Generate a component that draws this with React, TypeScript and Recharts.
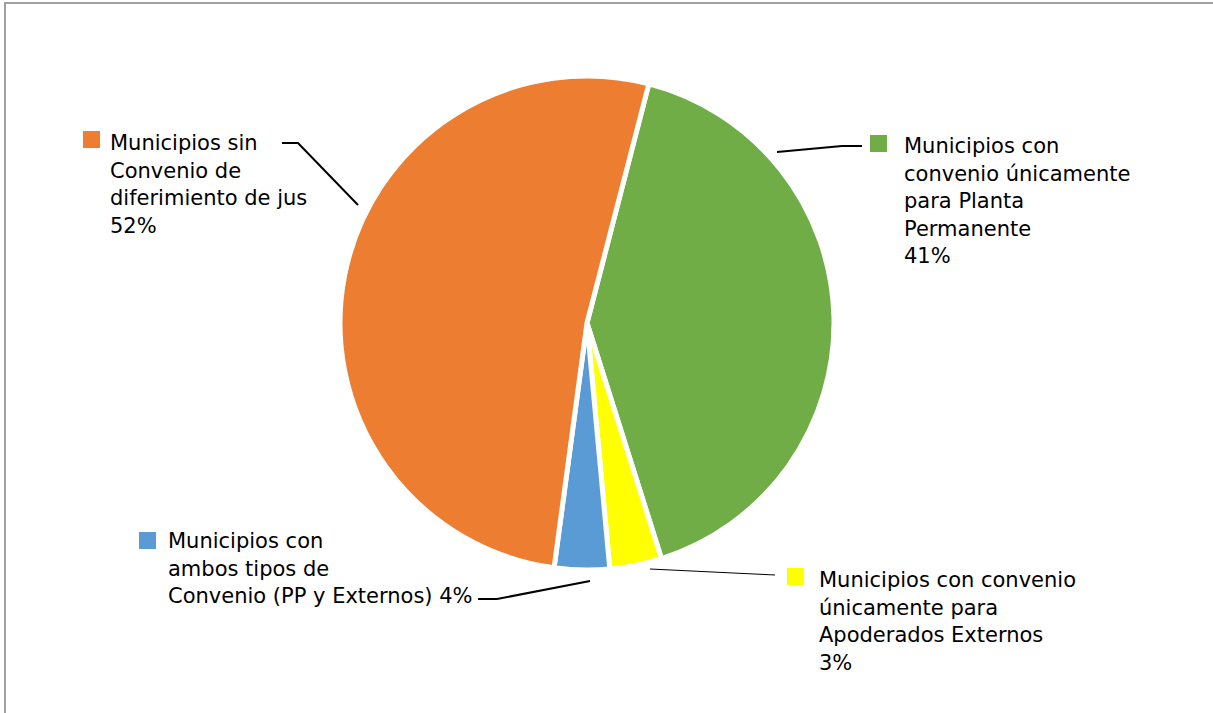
import React from "react";
import { PieChart, Pie, Cell } from "recharts";

const categories = [
  "Municipios con convenio únicamente para Planta Permanente",
  "Municipios con convenio únicamente para Apoderados Externos",
  "Municipios con ambos tipos de Convenio (PP y Externos)",
  "Municipios sin Convenio de diferimiento de jus",
];
const values = [41.1, 3.4, 3.6, 51.9];
const percentLabels = ["41%", "3%", "4%", "52%"];
const labelLines = [
  ["Municipios con", "convenio únicamente", "para Planta", "Permanente", "41%"],
  ["Municipios con convenio", "únicamente para", "Apoderados Externos", "3%"],
  ["Municipios con", "ambos tipos de", "Convenio (PP y Externos) 4%"],
  ["Municipios sin", "Convenio de", "diferimiento de jus", "52%"],
];
const colors = ["#70AD47", "#FFFF00", "#5B9BD5", "#ED7D31"];

const data = categories.map((name, i) => ({ name, value: values[i], pct: percentLabels[i] }));

// label layout, offsets relative to the pie centre
const layout = [
  { tx: 317, ty: -170, sq: [283, -188], line: [[190, -171], [255, -177], [275, -177]], lw: 2 },
  { tx: 232, ty: 264, sq: [200, 245], line: [[63, 246], [188, 252]], lw: 1 },
  { tx: -419, ty: 225, sq: [-448, 209], line: [[3, 258], [-90, 276], [-109, 276]], lw: 2 },
  { tx: -477, ty: -173, sq: [-504, -192], line: [[-305, -180], [-289, -180], [-229, -118]], lw: 2 },
];

const FONT = "'DejaVu Sans', sans-serif";
const LINE_H = 27.5;

const renderLabel = (props: any) => {
  const { cx, cy, index } = props;
  const L = layout[index];
  const pts = L.line.map(([x, y]) => `${cx + x},${cy + y}`).join(" ");
  return (
    <g key={`lbl-${index}`}>
      <polyline points={pts} fill="none" stroke="#000" strokeWidth={L.lw} />
      <rect x={cx + L.sq[0]} y={cy + L.sq[1]} width={17} height={17} fill={colors[index]} />
      <text x={cx + L.tx} y={cy + L.ty} fontFamily={FONT} fontSize={21} fill="#000">
        {labelLines[index].map((t, i) => (
          <tspan key={i} x={cx + L.tx} y={cy + L.ty + i * LINE_H}>
            {t}
          </tspan>
        ))}
      </text>
    </g>
  );
};

export default function App() {
  return (
    <div style={{ position: "fixed", left: 0, top: 0, width: 1213, height: 713, background: "#fff", overflow: "hidden" }}>
      <div
        style={{
          position: "absolute",
          left: 4,
          top: 2,
          width: 1240,
          height: 740,
          border: "2px solid #A0A0A0",
          boxSizing: "border-box",
        }}
      />
      <div style={{ position: "absolute", left: 0, top: 0 }}>
        <PieChart width={1213} height={713} margin={{ top: 0, right: 0, bottom: 0, left: 0 }}>
          <Pie
            data={data}
            dataKey="value"
            nameKey="name"
            cx={587}
            cy={323}
            outerRadius={247}
            startAngle={75.5}
            endAngle={-284.5}
            stroke="#FFFFFF"
            strokeWidth={5}
            label={renderLabel}
            labelLine={false}
            isAnimationActive={false}
          >
            {data.map((d, i) => (
              <Cell key={d.name} fill={colors[i]} />
            ))}
          </Pie>
        </PieChart>
      </div>
    </div>
  );
}
